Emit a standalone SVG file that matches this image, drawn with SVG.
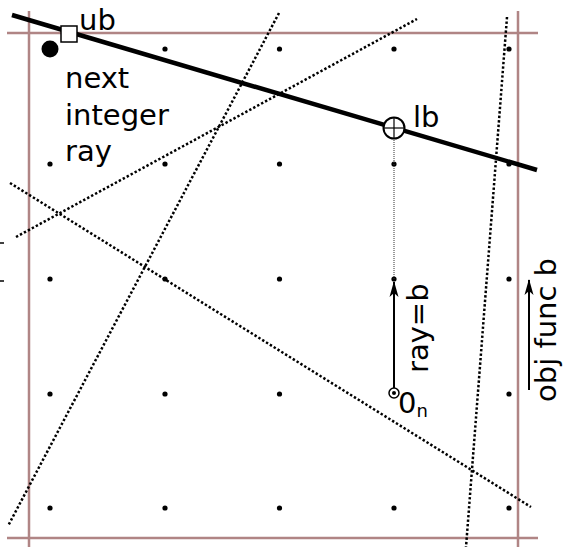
<svg xmlns="http://www.w3.org/2000/svg" width="564" height="547" viewBox="0 0 564 547">
<style>
.frame{stroke:#b08585;stroke-width:2.5;fill:none}
.cut{stroke:#000;stroke-width:2.5;stroke-dasharray:2.4 2.1;fill:none}
.pt{fill:#000}
.lbl{font-family:"DejaVu Sans",sans-serif;font-size:29px;fill:#000}
</style>
<defs>
<marker id="ah" markerWidth="16" markerHeight="10" refX="15" refY="5" orient="auto" markerUnits="userSpaceOnUse" viewBox="0 0 16 10">
<path d="M16,5 L0,0.5 L4,5 L0,9.5 Z" fill="#000"/>
</marker>
</defs>
<g id="frame">
<line class="frame" x1="7" y1="33" x2="538" y2="33"/>
<line class="frame" x1="7" y1="538" x2="538" y2="538"/>
<line class="frame" x1="29" y1="11" x2="29" y2="547"/>
<line class="frame" x1="518" y1="11" x2="518" y2="547"/>
</g>
<g id="lattice">
<circle class="pt" cx="165" cy="49" r="2.6"/><circle class="pt" cx="279.5" cy="49" r="2.6"/><circle class="pt" cx="394" cy="49" r="2.6"/><circle class="pt" cx="509" cy="49" r="2.6"/>
<circle class="pt" cx="50" cy="164" r="2.6"/><circle class="pt" cx="165" cy="164" r="2.6"/><circle class="pt" cx="279.5" cy="164" r="2.6"/><circle class="pt" cx="394" cy="164" r="2.6"/><circle class="pt" cx="509" cy="164" r="2.6"/>
<circle class="pt" cx="50" cy="279" r="2.6"/><circle class="pt" cx="165" cy="279" r="2.6"/><circle class="pt" cx="279.5" cy="279" r="2.6"/><circle class="pt" cx="394" cy="279" r="2.6"/><circle class="pt" cx="509" cy="279" r="2.6"/>
<circle class="pt" cx="50" cy="394" r="2.6"/><circle class="pt" cx="165" cy="394" r="2.6"/><circle class="pt" cx="279.5" cy="394" r="2.6"/><circle class="pt" cx="509" cy="394" r="2.6"/>
<circle class="pt" cx="50" cy="508" r="2.6"/><circle class="pt" cx="165" cy="508" r="2.6"/><circle class="pt" cx="279.5" cy="508" r="2.6"/><circle class="pt" cx="394" cy="508" r="2.6"/><circle class="pt" cx="509" cy="508" r="2.6"/>
</g>
<g id="connectors">
<line class="cut" x1="279" y1="13" x2="8" y2="526"/>
<line class="cut" x1="16" y1="237" x2="417" y2="19"/>
<line class="cut" x1="10" y1="183" x2="531" y2="507"/>
<line class="cut" x1="507" y1="17" x2="466" y2="547"/>
<line x1="394" y1="140" x2="394" y2="279" stroke="#333" stroke-width="1" stroke-dasharray="1 1"/>
<line x1="394" y1="388" x2="394" y2="282" stroke="#000" stroke-width="2" marker-end="url(#ah)"/>
<line x1="529" y1="390" x2="529" y2="280" stroke="#000" stroke-width="2" marker-end="url(#ah)"/>
<line x1="12" y1="15" x2="537" y2="170" stroke="#000" stroke-width="4.5"/>
<line x1="0" y1="243" x2="4" y2="243" stroke="#000" stroke-width="1.5"/>
<line x1="0" y1="281" x2="4" y2="281" stroke="#000" stroke-width="1.5"/>
</g>
<g id="ub">
<rect x="61" y="26" width="16" height="16" fill="#fff" stroke="#000" stroke-width="1.5"/>
<text class="lbl" x="79" y="30">ub</text>
</g>
<g id="next-integer-ray">
<circle cx="50" cy="49" r="8.5" fill="#000"/>
<text class="lbl" x="65" y="88">next</text>
<text class="lbl" x="65" y="125">integer</text>
<text class="lbl" x="65" y="161">ray</text>
</g>
<g id="lb">
<circle cx="394" cy="128" r="10.5" fill="#fff" stroke="#000" stroke-width="2"/>
<line x1="384" y1="128" x2="404" y2="128" stroke="#000" stroke-width="1.2"/>
<line x1="394" y1="118" x2="394" y2="138" stroke="#000" stroke-width="1.2"/>
<text class="lbl" x="413" y="127">lb</text>
</g>
<g id="origin">
<circle cx="394" cy="393" r="5" fill="#fff" stroke="#000" stroke-width="1.5"/>
<circle cx="394" cy="393" r="2" fill="#000"/>
<text class="lbl" x="398" y="413">0<tspan font-size="18" dy="4">n</tspan></text>
</g>
<g id="ray-label">
<text class="lbl" transform="translate(428,373) rotate(-90)">ray=b</text>
</g>
<g id="obj-label">
<text class="lbl" transform="translate(556,402) rotate(-90)">obj func b</text>
</g>
</svg>
